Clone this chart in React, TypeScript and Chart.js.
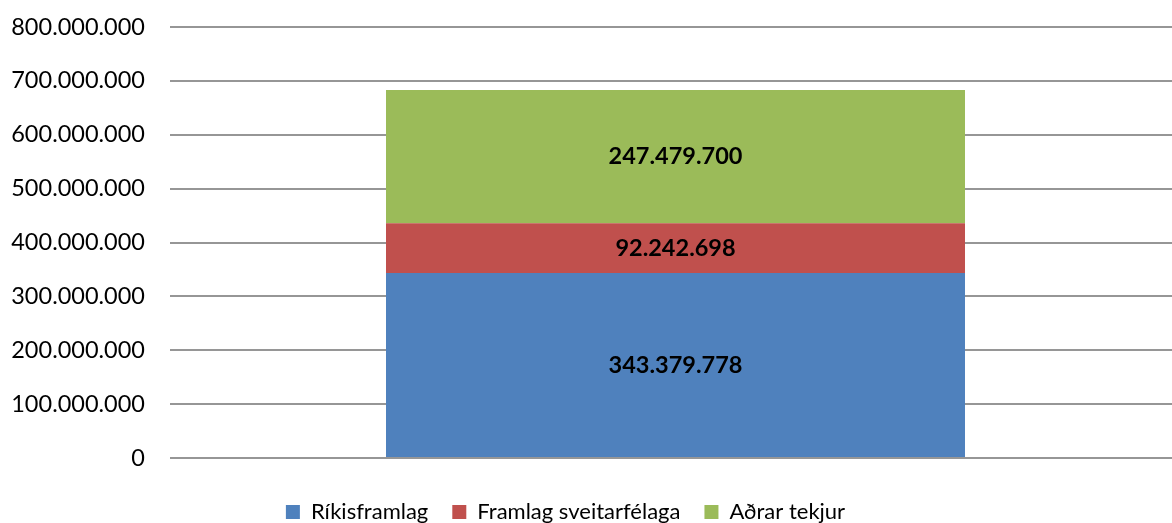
import { useEffect, useRef } from 'react';
import { Chart, registerables } from 'chart.js';

Chart.register(...registerables);

const categories = [''];
const seriesNames = ['Ríkisframlag', 'Framlag sveitarfélaga', 'Aðrar tekjur'];
const rikisframlag = [343379778];
const framlagSveitarfelaga = [92242698];
const adrarTekjur = [247479700];
const seriesColors = ['#4F81BD', '#C0504D', '#9BBB59'];
const yMin = 0;
const yMax = 800000000;
const yStep = 100000000;

const fmt = (v: number) =>
  Math.round(v)
    .toString()
    .replace(/\B(?=(\d{3})+(?!\d))/g, '.');

const FONT = 'Lato, "Liberation Sans", sans-serif';
const PAD_LEFT = -50;
const CANVAS_W = 1181;

const dataLabelPlugin = {
  id: 'dataLabels',
  afterDatasetsDraw(chart: any) {
    const ctx = chart.ctx;
    ctx.save();
    ctx.font = `bold 23.5px ${FONT}`;
    ctx.fillStyle = '#000000';
    ctx.textAlign = 'center';
    ctx.textBaseline = 'middle';
    chart.data.datasets.forEach((ds: any, i: number) => {
      const meta = chart.getDatasetMeta(i);
      meta.data.forEach((el: any, j: number) => {
        const v = ds.data[j];
        const cy = (el.y + el.base) / 2;
        ctx.fillText(fmt(v), el.x, cy);
      });
    });
    ctx.restore();
  },
};

export default function App() {
  const ref = useRef<HTMLCanvasElement | null>(null);
  useEffect(() => {
    if (!ref.current) return;
    Chart.defaults.font.family = FONT;
    const seriesData = [rikisframlag, framlagSveitarfelaga, adrarTekjur];
    const chart = new Chart(ref.current, {
      type: 'bar',
      data: {
        labels: categories,
        datasets: seriesNames.map((name, i) => ({
          label: name,
          data: seriesData[i],
          backgroundColor: seriesColors[i],
          borderWidth: 0,
          categoryPercentage: 1,
          barPercentage: 0.5727,
        })),
      },
      options: {
        animation: false,
        responsive: true,
        maintainAspectRatio: false,
        layout: { padding: { top: 27, right: 0, left: PAD_LEFT, bottom: -10 } },
        plugins: {
          tooltip: { enabled: false },
          legend: {
            position: 'bottom',
            labels: {
              font: { size: 22, family: FONT },
              color: '#000000',
              boxWidth: 14,
              boxHeight: 14,
              padding: 24,
            },
          },
        },
        scales: {
          x: {
            display: true,
            stacked: true,
            ticks: { display: false },
            grid: { display: false },
            border: { display: false },
            afterFit: (scale: any) => {
              scale.height = 19;
            },
          },
          y: {
            stacked: true,
            min: yMin,
            max: yMax,
            ticks: {
              stepSize: yStep,
              padding: 0,
              color: '#000000',
              font: { size: 23.5, family: FONT },
              callback: (v: any) => fmt(Number(v)),
            },
            grid: {
              color: '#969696',
              lineWidth: 2,
              drawTicks: true,
              tickLength: 25,
              tickColor: 'rgba(0,0,0,0)',
            },
            border: { display: false },
            afterFit: (scale: any) => {
              scale.width = 170 - PAD_LEFT;
            },
          },
        },
      },
      plugins: [dataLabelPlugin],
    });
    return () => chart.destroy();
  }, []);
  return (
    <div style={{ position: 'fixed', left: 0, top: 0, width: CANVAS_W, height: 523, background: '#fff' }}>
      <canvas ref={ref} />
    </div>
  );
}
